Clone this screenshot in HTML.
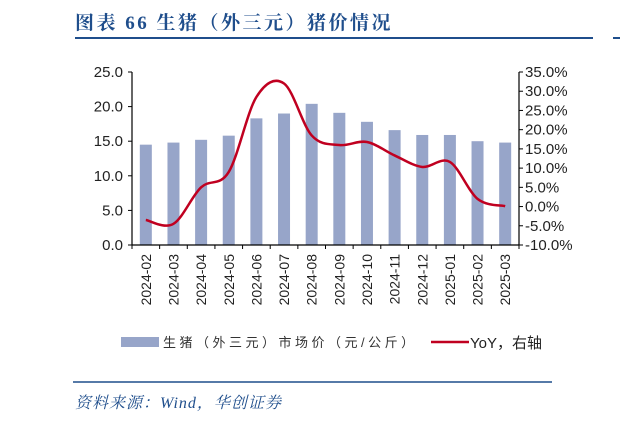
<!DOCTYPE html>
<html><head><meta charset="utf-8"><style>
html,body{margin:0;padding:0;background:#fff;width:620px;height:423px;overflow:hidden}
text{font-family:"Liberation Sans","Noto Sans CJK SC",sans-serif}
</style></head><body>
<svg id="chart" width="620" height="423" viewBox="0 0 620 423">
<text x="75" y="29" font-size="19" font-weight="bold" fill="#1f4e8c" letter-spacing="2.5" style="font-family:'Liberation Serif','Noto Serif CJK SC',serif">图表 66  生猪（外三元）猪价情况</text>
<line x1="75" y1="38" x2="593" y2="38" stroke="#1f4e8c" stroke-width="2"/>
<line x1="613" y1="38" x2="620" y2="38" stroke="#1f4e8c" stroke-width="2"/>
<g id="plot"></g>
<g>
<rect x="121" y="337" width="38" height="10" fill="#97a5c9"/>
<text x="163" y="347" font-size="13" fill="#333" letter-spacing="3.5">生猪（外三元）市场价（元/公斤）</text>
<line x1="431" y1="342" x2="469" y2="342" stroke="#c00020" stroke-width="2.5"/>
<text x="470" y="348" font-size="15" fill="#222">YoY，右轴</text>
</g>
<line x1="73" y1="382" x2="552" y2="382" stroke="#1f4e8c" stroke-width="1.5"/>
<text x="75" y="408" font-size="16" font-style="italic" fill="#1f4e8c" letter-spacing="1" style="font-family:'Liberation Serif','Noto Serif CJK SC',serif">资料来源：Wind，华创证券</text>
</svg>
<script>
const categories=["2024-02","2024-03","2024-04","2024-05","2024-06","2024-07","2024-08","2024-09","2024-10","2024-11","2024-12","2025-01","2025-02","2025-03"];
const priceValues=[14.5,14.8,15.2,15.8,18.3,19.0,20.4,19.1,17.8,16.6,15.9,15.9,15.0,14.8];
const yoyValues=[-3.5,-4.5,5.0,9.0,28.5,32.0,18.5,16.0,16.8,13.3,10.3,11.6,2.0,0.1];
const leftTicks=[0,5,10,15,20,25];
const rightTicks=[-10,-5,0,5,10,15,20,25,30,35];
const NS="http://www.w3.org/2000/svg";
const g=document.getElementById('plot');
const X0=132,X1=519,Y0=245,Y1=72;
const step=(X1-X0)/categories.length;
const xC=i=>X0+step*(i+0.5);
const yL=v=>Y0-(v-0)/(25-0)*(Y0-Y1);
const yR=v=>Y0-(v+10)/45*(Y0-Y1);
function mk(t,a){const e=document.createElementNS(NS,t);for(const k in a)e.setAttribute(k,a[k]);g.appendChild(e);return e;}
priceValues.forEach((v,i)=>{const r=mk('rect',{x:xC(i)-6,y:yL(v),width:12,height:Y0-yL(v),fill:'#97a5c9'});

});
let a=mk('line',{x1:X0,y1:Y1,x2:X0,y2:Y0,stroke:'#000','stroke-width':1.2});


a=mk('line',{x1:X1,y1:Y1,x2:X1,y2:Y0,stroke:'#000','stroke-width':1.2});


a=mk('line',{x1:X0,y1:Y0,x2:X1,y2:Y0,stroke:'#000','stroke-width':1.2});


leftTicks.forEach(v=>{mk('line',{x1:X0-4,y1:yL(v),x2:X0,y2:yL(v),stroke:'#000'});
const t=mk('text',{x:X0-9,y:yL(v)+5,'font-size':15,'text-anchor':'end',fill:'#222'});t.textContent=v.toFixed(1);

});
rightTicks.forEach(v=>{mk('line',{x1:X1,y1:yR(v),x2:X1+4,y2:yR(v),stroke:'#000'});
const t=mk('text',{x:X1+6,y:yR(v)+5,'font-size':15,fill:'#222'});t.textContent=v.toFixed(1)+'%';

});
for(let i=0;i<=categories.length;i++)mk('line',{x1:X0+step*i,y1:Y0,x2:X0+step*i,y2:Y0+4,stroke:'#000'});
categories.forEach((c,i)=>{const t=mk('text',{x:0,y:0,'font-size':14,'text-anchor':'end',fill:'#222',transform:`translate(${xC(i)+5},${Y0+9}) rotate(-90)`});t.textContent=c;

});
const pts=yoyValues.map((v,i)=>[xC(i),yR(v)]);
let d=`M${pts[0][0]},${pts[0][1]}`;
for(let i=0;i<pts.length-1;i++){const p0=pts[i-1]||pts[i],p1=pts[i],p2=pts[i+1],p3=pts[i+2]||p2;
d+=` C${p1[0]+(p2[0]-p0[0])/6},${p1[1]+(p2[1]-p0[1])/6} ${p2[0]-(p3[0]-p1[0])/6},${p2[1]-(p3[1]-p1[1])/6} ${p2[0]},${p2[1]}`;}
const ln=mk('path',{d:d,fill:'none',stroke:'#c00020','stroke-width':2.5});


</script>
</body></html>
